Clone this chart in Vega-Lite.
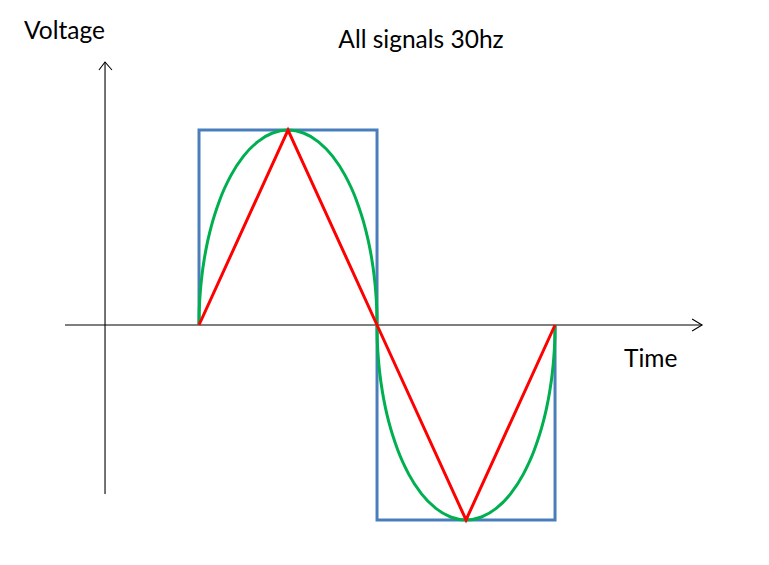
{
  "$schema": "https://vega.github.io/schema/vega-lite/v6.json",
  "width": 769,
  "height": 565,
  "padding": 0,
  "autosize": {"type": "fit", "contains": "padding"},
  "background": "white",
  "config": {"view": {"stroke": null}},
  "datasets": {
    "lines": [
      {"s": "axis", "seg": "y", "i": 0, "t": -0.528, "v": -0.867},
      {"s": "axis", "seg": "y", "i": 1, "t": -0.528, "v": 1.349},
      {"s": "axis", "seg": "ya", "i": 0, "t": -0.562, "v": 1.308},
      {"s": "axis", "seg": "ya", "i": 1, "t": -0.528, "v": 1.349},
      {"s": "axis", "seg": "ya", "i": 2, "t": -0.489, "v": 1.308},
      {"s": "axis", "seg": "x", "i": 0, "t": -0.753, "v": 0},
      {"s": "axis", "seg": "x", "i": 1, "t": 2.826, "v": 0},
      {"s": "axis", "seg": "xa", "i": 0, "t": 2.770, "v": 0.031},
      {"s": "axis", "seg": "xa", "i": 1, "t": 2.826, "v": 0},
      {"s": "axis", "seg": "xa", "i": 2, "t": 2.770, "v": -0.031},
      {"s": "square", "seg": "sq", "i": 0, "t": 0, "v": 0},
      {"s": "square", "seg": "sq", "i": 1, "t": 0, "v": 1},
      {"s": "square", "seg": "sq", "i": 2, "t": 1, "v": 1},
      {"s": "square", "seg": "sq", "i": 3, "t": 1, "v": -1},
      {"s": "square", "seg": "sq", "i": 4, "t": 2, "v": -1},
      {"s": "square", "seg": "sq", "i": 5, "t": 2, "v": 0},
      {"s": "triangle", "seg": "tr", "i": 0, "t": 0, "v": 0},
      {"s": "triangle", "seg": "tr", "i": 1, "t": 0.5, "v": 1},
      {"s": "triangle", "seg": "tr", "i": 2, "t": 1, "v": 0},
      {"s": "triangle", "seg": "tr", "i": 3, "t": 1.5, "v": -1},
      {"s": "triangle", "seg": "tr", "i": 4, "t": 2, "v": 0},
      {"s": "sine", "seg": "sn", "i": 0, "t": 0, "v": 0},
      {"s": "sine", "seg": "sn", "i": 1, "t": 0.0007, "v": 0.0523},
      {"s": "sine", "seg": "sn", "i": 2, "t": 0.0027, "v": 0.1045},
      {"s": "sine", "seg": "sn", "i": 3, "t": 0.0076, "v": 0.1736},
      {"s": "sine", "seg": "sn", "i": 4, "t": 0.0170, "v": 0.2588},
      {"s": "sine", "seg": "sn", "i": 5, "t": 0.0302, "v": 0.3420},
      {"s": "sine", "seg": "sn", "i": 6, "t": 0.0468, "v": 0.4226},
      {"s": "sine", "seg": "sn", "i": 7, "t": 0.0670, "v": 0.5},
      {"s": "sine", "seg": "sn", "i": 8, "t": 0.1170, "v": 0.6428},
      {"s": "sine", "seg": "sn", "i": 9, "t": 0.1786, "v": 0.7660},
      {"s": "sine", "seg": "sn", "i": 10, "t": 0.25, "v": 0.8660},
      {"s": "sine", "seg": "sn", "i": 11, "t": 0.3290, "v": 0.9397},
      {"s": "sine", "seg": "sn", "i": 12, "t": 0.4132, "v": 0.9848},
      {"s": "sine", "seg": "sn", "i": 13, "t": 0.5, "v": 1},
      {"s": "sine", "seg": "sn", "i": 14, "t": 0.5868, "v": 0.9848},
      {"s": "sine", "seg": "sn", "i": 15, "t": 0.6710, "v": 0.9397},
      {"s": "sine", "seg": "sn", "i": 16, "t": 0.75, "v": 0.8660},
      {"s": "sine", "seg": "sn", "i": 17, "t": 0.8214, "v": 0.7660},
      {"s": "sine", "seg": "sn", "i": 18, "t": 0.8830, "v": 0.6428},
      {"s": "sine", "seg": "sn", "i": 19, "t": 0.9330, "v": 0.5},
      {"s": "sine", "seg": "sn", "i": 20, "t": 0.9532, "v": 0.4226},
      {"s": "sine", "seg": "sn", "i": 21, "t": 0.9698, "v": 0.3420},
      {"s": "sine", "seg": "sn", "i": 22, "t": 0.9830, "v": 0.2588},
      {"s": "sine", "seg": "sn", "i": 23, "t": 0.9924, "v": 0.1736},
      {"s": "sine", "seg": "sn", "i": 24, "t": 0.9973, "v": 0.1045},
      {"s": "sine", "seg": "sn", "i": 25, "t": 0.9993, "v": 0.0523},
      {"s": "sine", "seg": "sn", "i": 26, "t": 1, "v": 0},
      {"s": "sine", "seg": "sn", "i": 27, "t": 1.0007, "v": -0.0523},
      {"s": "sine", "seg": "sn", "i": 28, "t": 1.0027, "v": -0.1045},
      {"s": "sine", "seg": "sn", "i": 29, "t": 1.0076, "v": -0.1736},
      {"s": "sine", "seg": "sn", "i": 30, "t": 1.0170, "v": -0.2588},
      {"s": "sine", "seg": "sn", "i": 31, "t": 1.0302, "v": -0.3420},
      {"s": "sine", "seg": "sn", "i": 32, "t": 1.0468, "v": -0.4226},
      {"s": "sine", "seg": "sn", "i": 33, "t": 1.0670, "v": -0.5},
      {"s": "sine", "seg": "sn", "i": 34, "t": 1.1170, "v": -0.6428},
      {"s": "sine", "seg": "sn", "i": 35, "t": 1.1786, "v": -0.7660},
      {"s": "sine", "seg": "sn", "i": 36, "t": 1.25, "v": -0.8660},
      {"s": "sine", "seg": "sn", "i": 37, "t": 1.3290, "v": -0.9397},
      {"s": "sine", "seg": "sn", "i": 38, "t": 1.4132, "v": -0.9848},
      {"s": "sine", "seg": "sn", "i": 39, "t": 1.5, "v": -1},
      {"s": "sine", "seg": "sn", "i": 40, "t": 1.5868, "v": -0.9848},
      {"s": "sine", "seg": "sn", "i": 41, "t": 1.6710, "v": -0.9397},
      {"s": "sine", "seg": "sn", "i": 42, "t": 1.75, "v": -0.8660},
      {"s": "sine", "seg": "sn", "i": 43, "t": 1.8214, "v": -0.7660},
      {"s": "sine", "seg": "sn", "i": 44, "t": 1.8830, "v": -0.6428},
      {"s": "sine", "seg": "sn", "i": 45, "t": 1.9330, "v": -0.5},
      {"s": "sine", "seg": "sn", "i": 46, "t": 1.9532, "v": -0.4226},
      {"s": "sine", "seg": "sn", "i": 47, "t": 1.9698, "v": -0.3420},
      {"s": "sine", "seg": "sn", "i": 48, "t": 1.9830, "v": -0.2588},
      {"s": "sine", "seg": "sn", "i": 49, "t": 1.9924, "v": -0.1736},
      {"s": "sine", "seg": "sn", "i": 50, "t": 1.9973, "v": -0.1045},
      {"s": "sine", "seg": "sn", "i": 51, "t": 1.9993, "v": -0.0523},
      {"s": "sine", "seg": "sn", "i": 52, "t": 2, "v": 0}
    ],
    "labels": [
      {"label": "Voltage", "t": -0.983, "v": 1.467, "a": "left"},
      {"label": "All signals 30hz", "t": 1.247, "v": 1.421, "a": "center"},
      {"label": "Time", "t": 2.388, "v": -0.215, "a": "left"}
    ]
  },
  "encoding": {
    "x": {"field": "t", "type": "quantitative", "scale": {"domain": [-1.118, 3.202], "nice": false, "zero": false}, "axis": null},
    "y": {"field": "v", "type": "quantitative", "scale": {"domain": [-1.231, 1.667], "nice": false, "zero": false}, "axis": null}
  },
  "layer": [
    {
      "data": {"name": "lines"},
      "transform": [{"filter": "datum.s === 'axis'"}],
      "mark": {"type": "line", "color": "black", "strokeWidth": 1.1},
      "encoding": {"detail": {"field": "seg"}, "order": {"field": "i", "type": "quantitative"}}
    },
    {
      "data": {"name": "lines"},
      "transform": [{"filter": "datum.s === 'square'"}],
      "mark": {"type": "line", "color": "#4a7ebb", "strokeWidth": 3, "strokeJoin": "miter"},
      "encoding": {"detail": {"field": "seg"}, "order": {"field": "i", "type": "quantitative"}}
    },
    {
      "data": {"name": "lines"},
      "transform": [{"filter": "datum.s === 'sine'"}],
      "mark": {"type": "line", "color": "#00b050", "strokeWidth": 3, "interpolate": "monotone"},
      "encoding": {"detail": {"field": "seg"}, "order": {"field": "i", "type": "quantitative"}}
    },
    {
      "data": {"name": "lines"},
      "transform": [{"filter": "datum.s === 'triangle'"}],
      "mark": {"type": "line", "color": "#ff0000", "strokeWidth": 3, "strokeJoin": "miter"},
      "encoding": {"detail": {"field": "seg"}, "order": {"field": "i", "type": "quantitative"}}
    },
    {
      "data": {"name": "labels"},
      "transform": [{"filter": "datum.a === 'left'"}],
      "mark": {"type": "text", "font": "Lato", "fontSize": 24.5, "color": "black", "align": "left", "baseline": "alphabetic"},
      "encoding": {"text": {"field": "label"}}
    },
    {
      "data": {"name": "labels"},
      "transform": [{"filter": "datum.a === 'center'"}],
      "mark": {"type": "text", "font": "Lato", "fontSize": 24.5, "color": "black", "align": "center", "baseline": "alphabetic"},
      "encoding": {"text": {"field": "label"}}
    }
  ]
}
